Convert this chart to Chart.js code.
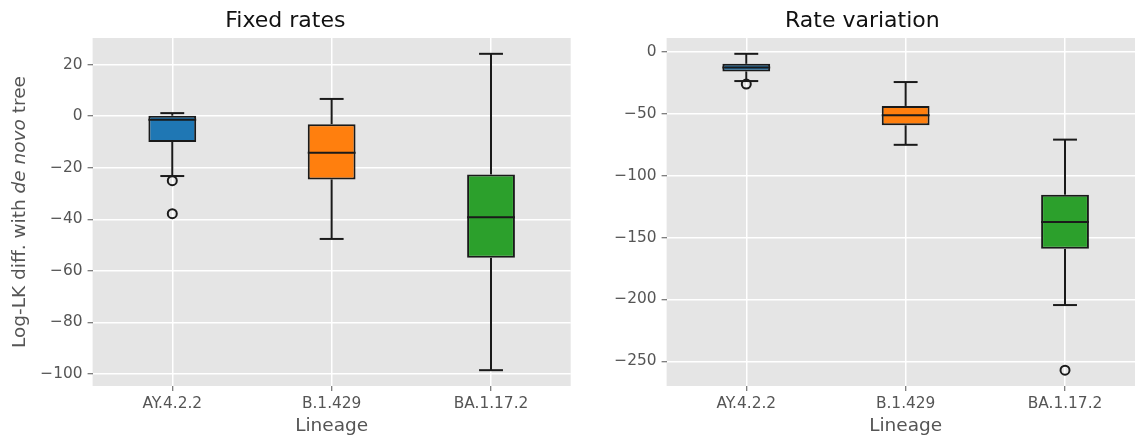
<!DOCTYPE html>
<html>
<head>
<meta charset="utf-8">
<script src="https://cdn.jsdelivr.net/npm/chart.js@4.4.1/dist/chart.umd.min.js"></script>
<style>
  html, body { margin: 0; padding: 0; background: #ffffff; overflow: hidden; }
  body { width: 1135px; height: 440px; position: relative; }
  .panel { position: absolute; top: 0; width: 580px; height: 440px; }
  #left { left: 0; }
  #right { left: 580px; }
</style>
</head>
<body>
<div class="panel" id="left"><canvas id="fixed" width="580" height="440"></canvas></div>
<div class="panel" id="right"><canvas id="variation" width="580" height="440"></canvas></div>
<script>
// Lineages on the x axis
const lineages = ['AY.4.2.2', 'B.1.429', 'BA.1.17.2'];
const boxColors = ['#1f77b4', '#ff7f0e', '#2ca02c'];

// Fixed rates: five-number summaries per lineage
const fixedWhiskerLow = [-23.2, -47.6, -98.5];
const fixedQ1 = [-10.0, -24.5, -54.9];
const fixedMedian = [-1.4, -14.2, -39.2];
const fixedQ3 = [0.2, -3.1, -22.6];
const fixedWhiskerHigh = [1.2, 6.7, 24.2];
const fixedOutliers = [
  { x: 'AY.4.2.2', y: -25.0 },
  { x: 'AY.4.2.2', y: -37.8 }
];
const fixedTicks = [20, 0, -20, -40, -60, -80, -100];

// Rate variation: five-number summaries per lineage
const varWhiskerLow = [-23.6, -75.1, -204.5];
const varQ1 = [-15.8, -59.3, -159.1];
const varMedian = [-12.6, -51.2, -137.4];
const varQ3 = [-9.7, -43.7, -115.4];
const varWhiskerHigh = [-1.6, -24.4, -70.9];
const varOutliers = [
  { x: 'AY.4.2.2', y: -26.0 },
  { x: 'BA.1.17.2', y: -257.1 }
];
const varTicks = [0, -50, -100, -150, -200, -250];

const FONT = "'DejaVu Sans', 'Liberation Sans', sans-serif";
const INK = '#1a1a1a';
const LW = 2;

function fmtTick(v) {
  return v < 0 ? '\u2212' + Math.abs(v) : String(v);
}

// Axis limits padded by 5% of the data span
function paddedRange(lows, highs, outliers) {
  const all = lows.concat(highs, outliers.map(o => o.y));
  const lo = Math.min(...all), hi = Math.max(...all);
  const pad = (hi - lo) * 0.05;
  return { min: lo - pad, max: hi + pad };
}

// Grey panel background
const panelBackground = {
  id: 'panelBackground',
  beforeDraw(chart) {
    const { ctx, chartArea: a } = chart;
    ctx.save();
    ctx.fillStyle = '#e5e5e5';
    ctx.fillRect(a.left, a.top, a.right - a.left, a.bottom - a.top);
    ctx.restore();
  }
};

// Whiskers, caps and median lines for each box
const boxExtras = {
  id: 'boxExtras',
  beforeDatasetsDraw(chart, args, opts) {
    const { ctx } = chart;
    const xs = chart.scales.x, ys = chart.scales.y;
    const unit = xs.getPixelForValue(1) - xs.getPixelForValue(0);
    const capHalf = unit * 0.075;
    ctx.save();
    ctx.strokeStyle = INK;
    ctx.lineWidth = LW;
    opts.low.forEach((lo, i) => {
      const x = xs.getPixelForValue(i);
      const segs = [[opts.q1[i], lo], [opts.q3[i], opts.high[i]]];
      segs.forEach(([from, to]) => {
        ctx.beginPath();
        ctx.moveTo(x, ys.getPixelForValue(from));
        ctx.lineTo(x, ys.getPixelForValue(to));
        ctx.stroke();
        ctx.beginPath();
        ctx.moveTo(x - capHalf, ys.getPixelForValue(to));
        ctx.lineTo(x + capHalf, ys.getPixelForValue(to));
        ctx.stroke();
      });
    });
    ctx.restore();
  },
  afterDatasetsDraw(chart, args, opts) {
    const { ctx } = chart;
    const xs = chart.scales.x, ys = chart.scales.y;
    const meta = chart.getDatasetMeta(0);
    ctx.save();
    ctx.strokeStyle = INK;
    ctx.lineWidth = LW;
    opts.median.forEach((m, i) => {
      const bar = meta.data[i];
      const half = bar.width / 2;
      const x = xs.getPixelForValue(i);
      const y = ys.getPixelForValue(m);
      ctx.beginPath();
      ctx.moveTo(x - half, y);
      ctx.lineTo(x + half, y);
      ctx.stroke();
    });
    ctx.restore();
  }
};

// Rotated y-axis label with an italic phrase
const yLabel = {
  id: 'yLabel',
  afterDraw(chart, args, opts) {
    if (!opts.parts) return;
    const { ctx, chartArea: a } = chart;
    const size = 18.5;
    ctx.save();
    ctx.translate(opts.x, (a.top + a.bottom) / 2);
    ctx.rotate(-Math.PI / 2);
    ctx.fillStyle = '#555555';
    ctx.textBaseline = 'middle';
    ctx.textAlign = 'left';
    const widths = opts.parts.map(p => {
      ctx.font = (p.italic ? 'italic ' : '') + size + 'px ' + FONT;
      return ctx.measureText(p.text).width;
    });
    let x = -widths.reduce((s, w) => s + w, 0) / 2;
    opts.parts.forEach((p, i) => {
      ctx.font = (p.italic ? 'italic ' : '') + size + 'px ' + FONT;
      ctx.fillText(p.text, x, 0);
      x += widths[i];
    });
    ctx.restore();
  }
};

function makePanel(canvasId, cfg) {
  const range = paddedRange(cfg.low, cfg.high, cfg.outliers);
  return new Chart(document.getElementById(canvasId), {
    type: 'bar',
    data: {
      labels: lineages,
      datasets: [
        {
          type: 'bar',
          data: cfg.q1.map((q, i) => [q, cfg.q3[i]]),
          backgroundColor: boxColors,
          borderColor: INK,
          borderWidth: LW,
          borderSkipped: false,
          categoryPercentage: 1.0,
          barPercentage: 0.3,
          order: 1
        },
        {
          type: 'line',
          data: cfg.outliers,
          showLine: false,
          pointRadius: 4.5,
          pointBorderWidth: 2,
          pointBorderColor: INK,
          pointBackgroundColor: 'rgba(0,0,0,0)',
          order: 0
        }
      ]
    },
    options: {
      responsive: false,
      animation: false,
      events: [],
      layout: { padding: { left: 0, right: cfg.padRight, top: 0, bottom: 0 } },
      plugins: {
        legend: { display: false },
        tooltip: { enabled: false },
        title: {
          display: true,
          text: cfg.title,
          color: '#111111',
          font: { family: FONT, size: 22, weight: 'normal' },
          padding: { top: 8.2, bottom: 3.4 }
        },
        boxExtras: { low: cfg.low, high: cfg.high, q1: cfg.q1, q3: cfg.q3, median: cfg.median },
        yLabel: cfg.yLabel || {}
      },
      scales: {
        x: {
          type: 'category',
          offset: true,
          grid: { offset: false, color: '#ffffff', lineWidth: 1.5, tickLength: 5, tickColor: '#555555', tickWidth: 1 },
          border: { display: false },
          ticks: { color: '#555555', font: { family: FONT, size: 15.4 }, padding: 4, maxRotation: 0 },
          title: { display: true, text: 'Lineage', color: '#555555', font: { family: FONT, size: 18.5 }, padding: { top: 0, bottom: 2.3 } },
          afterFit(scale) { scale.height = 54; }
        },
        y: {
          type: 'linear',
          min: range.min,
          max: range.max,
          grid: { color: '#ffffff', lineWidth: 1.5, tickLength: 5, tickColor: '#555555', tickWidth: 1 },
          border: { display: false },
          ticks: { color: '#555555', font: { family: FONT, size: 15.4 }, padding: 5, callback: v => fmtTick(v) },
          afterBuildTicks(scale) { scale.ticks = cfg.ticks.map(v => ({ value: v })); },
          afterFit(scale) { scale.width = cfg.yWidth; }
        }
      }
    },
    plugins: [panelBackground, boxExtras, yLabel]
  });
}

makePanel('fixed', {
  title: 'Fixed rates',
  low: fixedWhiskerLow, q1: fixedQ1, median: fixedMedian, q3: fixedQ3, high: fixedWhiskerHigh,
  outliers: fixedOutliers, ticks: fixedTicks,
  yWidth: 92.6, padRight: 9.3,
  yLabel: { x: 20, parts: [
    { text: 'Log-LK diff. with ', italic: false },
    { text: 'de novo', italic: true },
    { text: ' tree', italic: false }
  ] }
});

makePanel('variation', {
  title: 'Rate variation',
  low: varWhiskerLow, q1: varQ1, median: varMedian, q3: varQ3, high: varWhiskerHigh,
  outliers: varOutliers, ticks: varTicks,
  yWidth: 86.6, padRight: 15.3
});
</script>
</body>
</html>
